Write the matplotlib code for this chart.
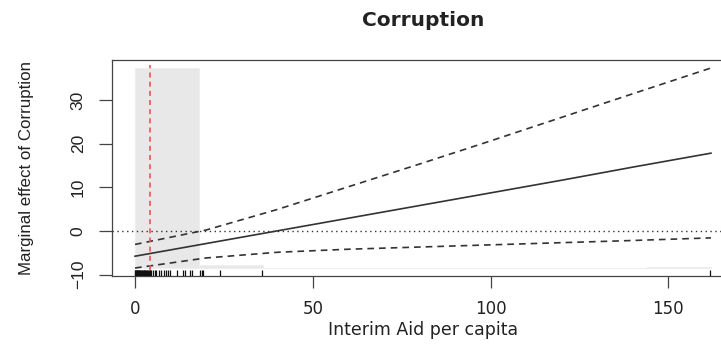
import numpy as np
import matplotlib
matplotlib.use("Agg")
import matplotlib.pyplot as plt
import matplotlib.transforms as mtransforms

# marginal effect of corruption and its 95% band along interim aid per capita
aid = [0, 20, 40, 60, 80, 100, 120, 140, 162]
effect = [-5.8, -2.9, 0.0, 2.9, 5.8, 8.7, 11.6, 14.6, 17.8]
upper = [-3.1, 0.2, 4.9, 10.1, 15.3, 20.6, 26.0, 31.4, 37.3]
lower = [-8.5, -6.2, -4.9, -4.2, -3.7, -3.2, -2.7, -2.2, -1.6]

# observed values of the moderator (rug)
aid_obs = [0.0, 0.1, 0.2, 0.3, 0.5, 0.6, 0.8, 0.9, 1.1, 1.2, 1.4, 1.5, 1.7,
           1.9, 2.0, 2.2, 2.4, 2.5, 2.7, 2.9, 3.1, 3.3, 3.5, 3.7, 3.9, 4.1,
           4.3, 4.6, 5.1, 5.6, 6.0, 6.8, 7.4, 8.1, 8.6, 9.3, 9.8, 11.7, 13.5,
           14.1, 15.4, 15.9, 18.2, 18.7, 19.2, 23.8, 35.7, 161.7]
aid_median = 4.3

# histogram of the moderator
bin_edges = [0, 18, 36, 54, 72, 90, 108, 126, 144, 162]
bin_counts = [150, 2, 0, 0, 0, 0, 0, 0, 1]

TXT = "#222222"
LINE = "#444444"
ROT_FONT = ["Liberation Sans", "DejaVu Sans"]

fig = plt.figure(figsize=(7.21, 3.56), dpi=100)
W, H = 721, 356
ax = fig.add_axes([112 / W, 1 - 276 / H, 622 / W, 216 / H])

# R-style 4% padding around the data range
x_lo, x_hi = min(aid), max(aid)
y_lo, y_hi = min(lower), max(upper)
px = 0.04 * (x_hi - x_lo)
py = 0.04 * (y_hi - y_lo)
ax.set_xlim(x_lo - px, x_hi + px)
ax.set_ylim(y_lo - py, y_hi + py)

# histogram bars sitting on the bottom of the band
scale = (y_hi - y_lo) / max(bin_counts)
lefts = np.array(bin_edges[:-1])
widths = np.diff(bin_edges)
heights = np.array(bin_counts) * scale
ax.bar(lefts, heights, width=widths, bottom=y_lo, align="edge",
       color="#e8e8e8", edgecolor="#eeeeee", linewidth=0.8, zorder=1)

ax.axhline(0, color="#333333", lw=1.0, linestyle=(0, (1, 2.5)), zorder=2)

ax.plot(aid, effect, color="#333333", lw=1.2, zorder=3)
ax.plot(aid, upper, color="#333333", lw=1.2, linestyle=(0, (4, 3)), zorder=3)
ax.plot(aid, lower, color="#333333", lw=1.2, linestyle=(0, (4, 3)), zorder=3)

ax.axvline(aid_median, ymin=0.03, ymax=0.975, color="#e05a5a", lw=1.2,
           linestyle=(0, (3, 2.5)), zorder=4)

# rug along the bottom axis
trans = mtransforms.blended_transform_factory(ax.transData, ax.transAxes)
ax.vlines(aid_obs, 0, 0.03, transform=trans, color="#111111", lw=0.9, zorder=5)

ax.set_xticks([0, 50, 100, 150])
ax.set_yticks([-10, 0, 10, 20, 30])
ax.tick_params(axis="x", length=8.5, width=0.9, color=LINE, pad=9,
               labelsize=12, labelcolor=TXT)
ax.tick_params(axis="y", length=9.4, width=0.9, color=LINE, pad=9.5,
               labelsize=12, labelcolor=TXT)
plt.setp(ax.get_yticklabels(), rotation=90, va="center", family=ROT_FONT,
         fontsize=12.5)

for s in ax.spines.values():
    s.set_color(LINE)
    s.set_linewidth(0.9)

fig.text(423 / W, 1 - 20 / H, "Corruption", ha="center", va="center",
         fontsize=14.5, fontweight="bold", color=TXT)
fig.text(423 / W, 1 - 330 / H, "Interim Aid per capita", ha="center",
         va="center", fontsize=12.5, color=TXT)
fig.text(27 / W, 1 - 168 / H, "Marginal effect of Corruption", ha="center",
         va="center", rotation=90, fontsize=12.2, family=ROT_FONT, color=TXT)

fig.savefig("out.png", dpi=100)
